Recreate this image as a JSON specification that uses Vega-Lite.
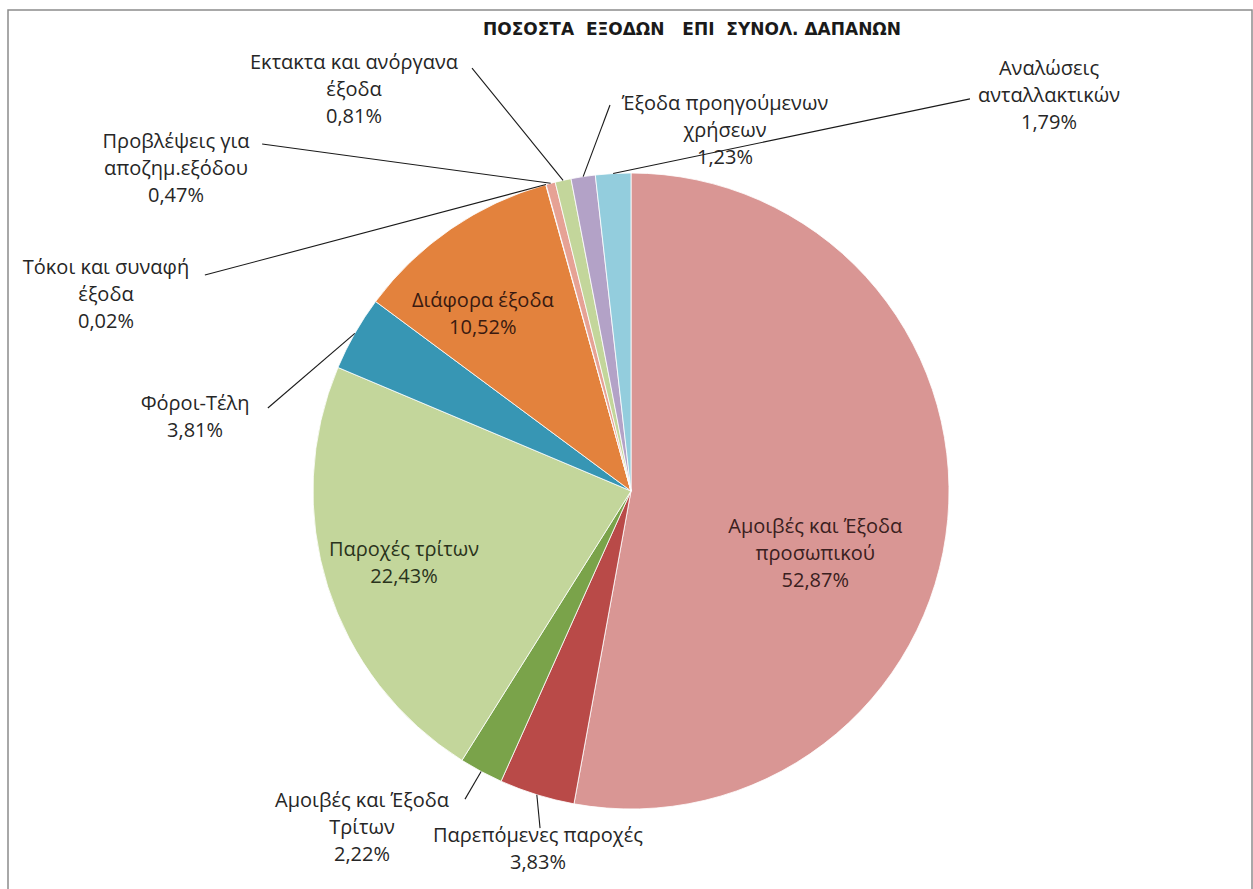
{
  "$schema": "https://vega.github.io/schema/vega-lite/v6.json",
  "width": 1244,
  "height": 885,
  "autosize": {"type": "none"},
  "padding": {"left": 8, "top": 10, "right": 1, "bottom": 0},
  "background": "white",
  "title": {"text": "ΠΟΣΟΣΤΑ \u00a0ΕΞΟΔΩΝ \u00a0\u00a0ΕΠΙ \u00a0ΣΥΝΟΛ. ΔΑΠΑΝΩΝ", "font": "DejaVu Sans", "fontSize": 17, "fontWeight": "bold", "color": "#1a1a1a", "anchor": "middle", "frame": "group", "offset": -29, "dx": 62},
  "config": {
    "view": {"stroke": "#8c8c8c", "strokeWidth": 1.5},
    "text": {"font": "Open Sans", "fontSize": 20, "lineHeight": 27, "align": "center", "baseline": "middle", "lineBreak": "\n", "fill": "#262626"},
    "rule": {"color": "#1a1a1a", "strokeWidth": 1.1}
  },
  "data": {"values": [
    {"idx": 1, "name": "Αμοιβές και Έξοδα προσωπικού", "value": 52.87},
    {"idx": 2, "name": "Παρεπόμενες παροχές", "value": 3.83},
    {"idx": 3, "name": "Αμοιβές και Έξοδα Τρίτων", "value": 2.22},
    {"idx": 4, "name": "Παροχές τρίτων", "value": 22.43},
    {"idx": 5, "name": "Φόροι-Τέλη", "value": 3.81},
    {"idx": 6, "name": "Διάφορα έξοδα", "value": 10.52},
    {"idx": 7, "name": "Τόκοι και συναφή έξοδα", "value": 0.02},
    {"idx": 8, "name": "Προβλέψεις για αποζημ.εξόδου", "value": 0.47},
    {"idx": 9, "name": "Εκτακτα και ανόργανα έξοδα", "value": 0.81},
    {"idx": 10, "name": "Έξοδα προηγούμενων χρήσεων", "value": 1.23},
    {"idx": 11, "name": "Αναλώσεις ανταλλακτικών", "value": 1.79}
  ]},
  "transform": [
    {"window": [{"op": "sum", "field": "value", "as": "end"}], "sort": [{"field": "idx"}], "frame": [null, 0]},
    {"calculate": "datum.end - datum.value", "as": "start"},
    {"calculate": "(datum.start + datum.end) / 2", "as": "mid"},
    {"calculate": "sin(2 * PI * datum.mid / 100)", "as": "sx"},
    {"calculate": "cos(2 * PI * datum.mid / 100)", "as": "sy"},
    {"calculate": "replace(format(datum.value, '.2f'), '.', ',') + '%'", "as": "pct"},
    {"calculate": "datum.name + '\\n' + datum.pct", "as": "lbl1"},
    {"calculate": "substring(datum.name, 0, lastindexof(datum.name, ' ')) + '\\n' + substring(datum.name, lastindexof(datum.name, ' ') + 1) + '\\n' + datum.pct", "as": "lbl2"}
  ],
  "layer": [
    {
      "mark": {"type": "arc", "radius": 318, "stroke": "white", "strokeWidth": 0.8},
      "encoding": {
        "x": {"datum": 0, "type": "quantitative", "scale": {"domain": [-1.95912, 1.95283], "nice": false, "zero": false}, "axis": null},
        "y": {"datum": 0, "type": "quantitative", "scale": {"domain": [-1.27044, 1.51258], "nice": false, "zero": false}, "axis": null},
        "theta": {"field": "start", "type": "quantitative", "stack": null, "scale": {"domain": [0, 100]}},
        "theta2": {"field": "end"},
        "color": {"field": "name", "type": "nominal", "legend": null, "scale": {
          "domain": ["Αμοιβές και Έξοδα προσωπικού", "Παρεπόμενες παροχές", "Αμοιβές και Έξοδα Τρίτων", "Παροχές τρίτων", "Φόροι-Τέλη", "Διάφορα έξοδα", "Τόκοι και συναφή έξοδα", "Προβλέψεις για αποζημ.εξόδου", "Εκτακτα και ανόργανα έξοδα", "Έξοδα προηγούμενων χρήσεων", "Αναλώσεις ανταλλακτικών"],
          "range": ["#D99694", "#B94A48", "#7AA34A", "#C3D69B", "#3796B4", "#E3823D", "#A6A6A6", "#E6A295", "#C3D69B", "#B3A2C7", "#93CDDD"]}}
      }
    },
    {"transform": [{"filter": "datum.idx == 11"}], "mark": "rule", "encoding": {"x": {"field": "sx", "type": "quantitative"}, "y": {"field": "sy", "type": "quantitative"}, "x2": {"datum": 1.066}, "y2": {"datum": 1.233}}},
    {"transform": [{"filter": "datum.idx == 10"}], "mark": "rule", "encoding": {"x": {"field": "sx", "type": "quantitative"}, "y": {"field": "sy", "type": "quantitative"}, "x2": {"datum": -0.066}, "y2": {"datum": 1.214}}},
    {"transform": [{"filter": "datum.idx == 9"}], "mark": "rule", "encoding": {"x": {"field": "sx", "type": "quantitative"}, "y": {"field": "sy", "type": "quantitative"}, "x2": {"datum": -0.5}, "y2": {"datum": 1.33}}},
    {"transform": [{"filter": "datum.idx == 8"}], "mark": "rule", "encoding": {"x": {"field": "sx", "type": "quantitative"}, "y": {"field": "sy", "type": "quantitative"}, "x2": {"datum": -1.16}, "y2": {"datum": 1.091}}},
    {"transform": [{"filter": "datum.idx == 7"}], "mark": "rule", "encoding": {"x": {"field": "sx", "type": "quantitative"}, "y": {"field": "sy", "type": "quantitative"}, "x2": {"datum": -1.34}, "y2": {"datum": 0.679}}},
    {"transform": [{"filter": "datum.idx == 5"}], "mark": "rule", "encoding": {"x": {"field": "sx", "type": "quantitative"}, "y": {"field": "sy", "type": "quantitative"}, "x2": {"datum": -1.142}, "y2": {"datum": 0.261}}},
    {"transform": [{"filter": "datum.idx == 3"}], "mark": "rule", "encoding": {"x": {"field": "sx", "type": "quantitative"}, "y": {"field": "sy", "type": "quantitative"}, "x2": {"datum": -0.522}, "y2": {"datum": -0.969}}},
    {"transform": [{"filter": "datum.idx == 2"}], "mark": "rule", "encoding": {"x": {"field": "sx", "type": "quantitative"}, "y": {"field": "sy", "type": "quantitative"}, "x2": {"datum": -0.286}, "y2": {"datum": -1.06}}},
    {"transform": [{"filter": "datum.idx == 11"}], "mark": "text", "encoding": {"x": {"datum": 1.3145, "type": "quantitative"}, "y": {"datum": 1.327, "type": "quantitative"}, "text": {"field": "lbl2"}}},
    {"transform": [{"filter": "datum.idx == 10"}], "mark": "text", "encoding": {"x": {"datum": 0.2956, "type": "quantitative"}, "y": {"datum": 1.217, "type": "quantitative"}, "text": {"field": "lbl2"}}},
    {"transform": [{"filter": "datum.idx == 9"}], "mark": "text", "encoding": {"x": {"datum": -0.8711, "type": "quantitative"}, "y": {"datum": 1.3459, "type": "quantitative"}, "text": {"field": "lbl2"}}},
    {"transform": [{"filter": "datum.idx == 8"}], "mark": "text", "encoding": {"x": {"datum": -1.4308, "type": "quantitative"}, "y": {"datum": 1.0975, "type": "quantitative"}, "text": {"field": "lbl2"}}},
    {"transform": [{"filter": "datum.idx == 7"}], "mark": "text", "encoding": {"x": {"datum": -1.651, "type": "quantitative"}, "y": {"datum": 0.7013, "type": "quantitative"}, "text": {"field": "lbl2"}}},
    {"transform": [{"filter": "datum.idx == 5"}], "mark": "text", "encoding": {"x": {"datum": -1.371, "type": "quantitative"}, "y": {"datum": 0.2721, "type": "quantitative"}, "text": {"field": "lbl1"}}},
    {"transform": [{"filter": "datum.idx == 3"}], "mark": "text", "encoding": {"x": {"datum": -0.8459, "type": "quantitative"}, "y": {"datum": -0.9748, "type": "quantitative"}, "text": {"field": "lbl2"}}},
    {"transform": [{"filter": "datum.idx == 2"}], "mark": "text", "encoding": {"x": {"datum": -0.2925, "type": "quantitative"}, "y": {"datum": -1.0864, "type": "quantitative"}, "text": {"field": "lbl1"}}},
    {"transform": [{"filter": "datum.idx == 1"}], "mark": {"type": "text", "radius": 190, "dx": -5, "dy": 19, "fill": "#3a2020"}, "encoding": {"x": {"datum": 0, "type": "quantitative"}, "y": {"datum": 0, "type": "quantitative"}, "theta": {"field": "mid", "type": "quantitative", "stack": null}, "text": {"field": "lbl2"}}},
    {"transform": [{"filter": "datum.idx == 4"}], "mark": {"type": "text", "radius": 238, "dy": -12.5, "fill": "#2a331c"}, "encoding": {"x": {"datum": 0, "type": "quantitative"}, "y": {"datum": 0, "type": "quantitative"}, "theta": {"field": "mid", "type": "quantitative", "stack": null}, "text": {"field": "lbl1"}}},
    {"transform": [{"filter": "datum.idx == 6"}], "mark": {"type": "text", "radius": 230, "dx": -18, "dy": -0.5, "fill": "#3a1a10"}, "encoding": {"x": {"datum": 0, "type": "quantitative"}, "y": {"datum": 0, "type": "quantitative"}, "theta": {"field": "mid", "type": "quantitative", "stack": null}, "text": {"field": "lbl1"}}}
  ]
}
